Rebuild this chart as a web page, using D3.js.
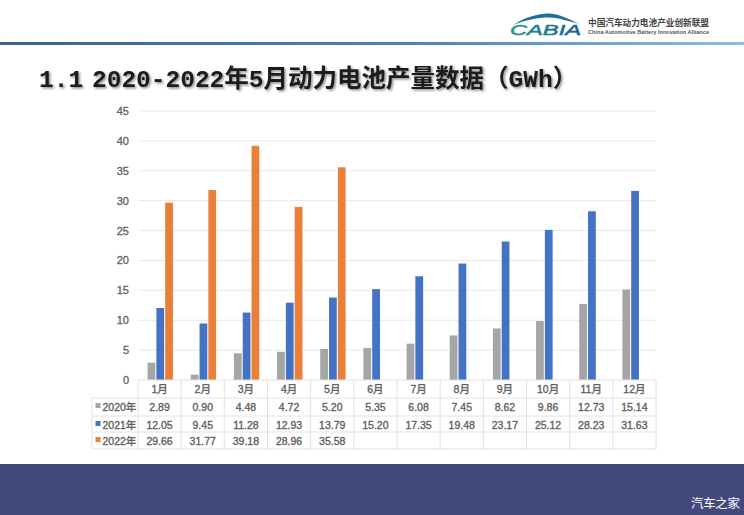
<!DOCTYPE html>
<html>
<head>
  <meta charset="utf-8">
  <title>动力电池产量数据</title>
  <style>
    html, body { margin: 0; padding: 0; background: #fff; }
    svg { display: block; }
    text { font-family: "Liberation Sans", "Noto Sans CJK SC", sans-serif; }
    .tick-label { fill: #5f5f5f; font-size: 11px; stroke: #5f5f5f; stroke-width: 0.3px; }
    .cell-label { fill: #5f5f5f; font-size: 10.5px; stroke: #5f5f5f; stroke-width: 0.35px; text-anchor: middle; }
    .grid-line { stroke: #e8e8e8; stroke-width: 1px; }
    .table-line { stroke: #e2e2e2; stroke-width: 1px; }
  </style>
</head>
<body>
  <div id="chart"></div>

  <script src="https://d3js.org/d3.v7.min.js"></script>
  <script>
    const months = ["1月", "2月", "3月", "4月", "5月", "6月", "7月", "8月", "9月", "10月", "11月", "12月"];
    const seriesNames = ["2020年", "2021年", "2022年"];
    const seriesColors = ["#a5a5a5", "#4472c4", "#e8803a"];
    const values2020 = [2.89, 0.90, 4.48, 4.72, 5.20, 5.35, 6.08, 7.45, 8.62, 9.86, 12.73, 15.14];
    const values2021 = [12.05, 9.45, 11.28, 12.93, 13.79, 15.20, 17.35, 19.48, 23.17, 25.12, 28.23, 31.63];
    const values2022 = [29.66, 31.77, 39.18, 28.96, 35.58];
    const yTicks = [0, 5, 10, 15, 20, 25, 30, 35, 40, 45];
    const allSeries = [values2020, values2021, values2022];

    const svg = d3.select("#chart")
      .append("svg")
      .attr("width", 744)
      .attr("height", 515)
      .attr("viewBox", "0 0 744 515");

    const defs = svg.append("defs");
    const rule = defs.append("linearGradient").attr("id", "rule-gradient");
    rule.append("stop").attr("offset", "0%").attr("stop-color", "#3f5f96");
    rule.append("stop").attr("offset", "55%").attr("stop-color", "#4f7fbd");
    rule.append("stop").attr("offset", "100%").attr("stop-color", "#8dbde6");

    const logoGradient = defs.append("linearGradient").attr("id", "logo-gradient");
    logoGradient.append("stop").attr("offset", "0%").attr("stop-color", "#1f9a8c");
    logoGradient.append("stop").attr("offset", "100%").attr("stop-color", "#1a5f95");

    const blur = defs.append("filter").attr("id", "title-shadow")
      .attr("x", "-5%").attr("y", "-20%").attr("width", "110%").attr("height", "150%");
    blur.append("feDropShadow")
      .attr("dx", 1.5).attr("dy", 1.5).attr("stdDeviation", 0.8)
      .attr("flood-color", "#000").attr("flood-opacity", 0.45);

    // Header
    svg.append("rect").attr("x", 0).attr("y", 42).attr("width", 744).attr("height", 3)
      .attr("fill", "url(#rule-gradient)");

    svg.append("path")
      .attr("d", "M513,25 C525,17 540,13 550,13.5 C560,14 570,20 580,24 C568,21 558,17.5 549,17.5 C538,17.5 525,20 513,25 Z")
      .attr("fill", "#1d6f98");
    svg.append("text")
      .attr("x", 510).attr("y", 35)
      .attr("font-size", 15).attr("font-style", "italic")
      .attr("textLength", 71).attr("lengthAdjust", "spacingAndGlyphs")
      .attr("fill", "url(#logo-gradient)")
      .attr("stroke", "url(#logo-gradient)").attr("stroke-width", 0.5)
      .text("CABIA");
    svg.append("text")
      .attr("x", 588).attr("y", 26)
      .attr("font-size", 9.5).attr("font-weight", "bold").attr("fill", "#444")
      .attr("textLength", 121).attr("lengthAdjust", "spacingAndGlyphs")
      .text("中国汽车动力电池产业创新联盟");
    svg.append("text")
      .attr("x", 588).attr("y", 33.5)
      .attr("font-size", 5.5).attr("font-weight", "bold").attr("fill", "#555")
      .attr("textLength", 121).attr("lengthAdjust", "spacingAndGlyphs")
      .text("China Automotive Battery Innovation Alliance");

    const title = svg.append("text")
      .attr("y", 87)
      .attr("font-size", 24.5).attr("font-weight", "bold").attr("fill", "#1a1a1a")
      .attr("filter", "url(#title-shadow)")
      .style("font-family", '"Liberation Mono", "Noto Sans CJK SC", monospace');
    title.append("tspan").attr("x", 39).text("1.1");
    title.append("tspan").attr("x", 92).text("2020-2022年5月动力电池产量数据（GWh）");

    // Chart
    const plotLeft = 138, plotRight = 656, plotTop = 111, plotBottom = 380;
    const tableLeft = 92;
    const rowLines = [380, 398, 416, 432, 449];

    const x = d3.scaleBand().domain(months).range([plotLeft, plotRight]);
    const xSeries = d3.scaleBand().domain(d3.range(3)).range([8.5, 36]).padding(0.12);
    const y = d3.scaleLinear().domain([0, 45]).range([plotBottom, plotTop]);

    svg.append("g").selectAll("line").data(yTicks.slice(1)).enter().append("line")
      .attr("class", "grid-line")
      .attr("x1", plotLeft).attr("x2", plotRight)
      .attr("y1", d => y(d)).attr("y2", d => y(d));

    svg.append("g").selectAll("text").data(yTicks).enter().append("text")
      .attr("class", "tick-label")
      .attr("x", 129).attr("y", d => y(d) + 4)
      .attr("text-anchor", "end")
      .text(d => d);

    allSeries.forEach((values, s) => {
      svg.append("g").attr("fill", seriesColors[s])
        .selectAll("rect").data(values).enter().append("rect")
        .attr("x", (d, i) => x(months[i]) + xSeries(s))
        .attr("width", xSeries.bandwidth())
        .attr("y", d => y(d))
        .attr("height", d => y(0) - y(d));
    });

    // Data table under the plot
    const table = svg.append("g");
    rowLines.forEach((ly, i) => {
      table.append("line").attr("class", "table-line")
        .attr("x1", i === 0 ? plotLeft : tableLeft).attr("x2", plotRight)
        .attr("y1", ly).attr("y2", ly);
    });
    table.append("line").attr("class", "table-line")
      .attr("x1", tableLeft).attr("x2", tableLeft)
      .attr("y1", rowLines[1]).attr("y2", rowLines[4]);
    x.domain().concat([null]).forEach(m => {
      const lx = m === null ? plotRight : x(m);
      table.append("line").attr("class", "table-line")
        .attr("x1", lx).attr("x2", lx)
        .attr("y1", rowLines[0]).attr("y2", rowLines[4]);
    });

    months.forEach(m => {
      table.append("text").attr("class", "cell-label")
        .attr("x", x(m) + x.bandwidth() / 2).attr("y", rowLines[0] + 13)
        .text(m);
    });

    allSeries.forEach((values, s) => {
      const rowY = rowLines[s + 1] + 12.5;
      table.append("rect")
        .attr("x", 95.5).attr("y", rowY - 7.5)
        .attr("width", 5).attr("height", 5)
        .attr("fill", seriesColors[s]);
      table.append("text").attr("class", "cell-label")
        .attr("x", 102.5).attr("y", rowY)
        .style("text-anchor", "start")
        .text(seriesNames[s]);
      values.forEach((v, i) => {
        table.append("text").attr("class", "cell-label")
          .attr("x", x(months[i]) + x.bandwidth() / 2).attr("y", rowY)
          .text(v.toFixed(2));
      });
    });

    // Footer band
    svg.append("rect").attr("x", 0).attr("y", 464).attr("width", 744).attr("height", 51)
      .attr("fill", "#44497d");
    svg.append("text")
      .attr("x", 691).attr("y", 508)
      .attr("font-size", 12.5).attr("fill", "#fff")
      .attr("textLength", 49)
      .text("汽车之家");
  </script>
</body>
</html>
